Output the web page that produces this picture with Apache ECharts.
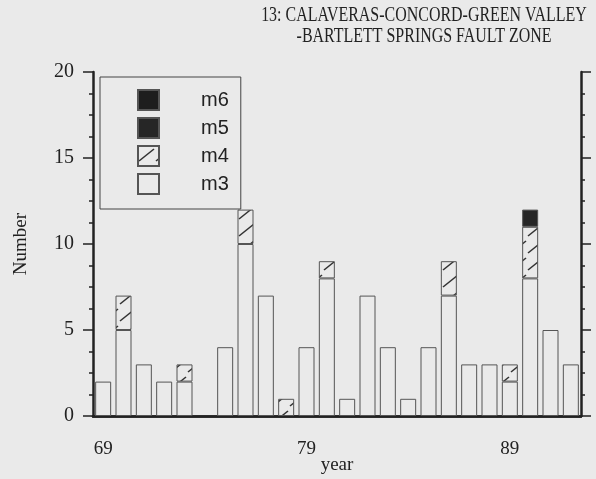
<!DOCTYPE html>
<html><head><meta charset="utf-8">
<script src="https://cdn.jsdelivr.net/npm/echarts@6/dist/echarts.min.js"></script>
<style>html,body{margin:0;padding:0;background:#eaeaea}#c{width:596px;height:479px}</style>
</head><body><div id="c"></div>
<script>
const years = ['69','70','71','72','73','74','75','76','77','78','79','80','81','82','83','84','85','86','87','88','89','90','91','92'];
const m3 = [2,5,3,2,2,0,4,10,7,0,4,8,1,7,4,1,4,7,3,3,2,8,5,3];
const m4 = [0,2,0,0,1,0,0,2,0,1,0,1,0,0,0,0,0,2,0,0,1,3,0,0];
const m5 = [0,0,0,0,0,0,0,0,0,0,0,0,0,0,0,0,0,0,0,0,0,1,0,0];
const m6 = [0,0,0,0,0,0,0,0,0,0,0,0,0,0,0,0,0,0,0,0,0,0,0,0];
const yTicks = [0,5,10,15,20];
const titleLines = ['13: CALAVERAS-CONCORD-GREEN VALLEY','-BARTLETT SPRINGS FAULT ZONE'];

const BG = '#eaeaea';
const hatch = document.createElement('canvas');
hatch.width = 17; hatch.height = 17;
const hc = hatch.getContext('2d');
hc.fillStyle = BG; hc.fillRect(0,0,17,17);
hc.strokeStyle = '#333'; hc.lineWidth = 1.6;
hc.beginPath(); hc.moveTo(1,15); hc.lineTo(16,3); hc.stroke();

const nz = a => a.map(v => v === 0 ? '-' : v);
const serif = '"Liberation Serif","Times New Roman",serif';
const chart = echarts.init(document.getElementById('c'));
const border = {borderColor:'#555', borderWidth:1};
chart.setOption({
  backgroundColor: BG,
  animation: false,
  graphic: titleLines.map((t, i) => ({
    type: 'text', x: 424, y: 5 + i * 21, scaleX: 0.76,
    style: {text: t, fontFamily: serif, fontSize: 21, fill: '#222', align: 'center', verticalAlign: 'top'}
  })),
  legend: {
    data: ['m6','m5','m4','m3'], orient: 'vertical', left: 100, top: 77,
    itemWidth: 21, itemHeight: 20, itemGap: 6, icon: 'rect',
    padding: [12, 12, 14, 37], borderColor: '#444', borderWidth: 1,
    textStyle: {fontFamily: '"Liberation Sans",Arial,sans-serif', fontSize: 20, color: '#222', padding: [0,0,0,37]}
  },
  grid: {left: 93, right: 15, top: 72, bottom: 63, containLabel: false, outerBoundsMode: 'none'},
  xAxis: [{
    type: 'category', data: years, position: 'bottom',
    name: 'year', nameLocation: 'middle', nameGap: 40, nameMoveOverlap: false,
    nameTextStyle: {fontFamily: serif, fontSize: 19, color: '#222'},
    axisLine: {lineStyle: {color: '#222', width: 2.5}},
    axisTick: {interval: 0, length: 9, lineStyle: {color: '#222', width: 1.5}},
    axisLabel: {interval: (i) => i % 10 === 0, margin: 24, fontFamily: serif, fontSize: 19, color: '#222'}
  }, {
    type: 'category', data: years, position: 'top',
    axisLine: {lineStyle: {color: '#222', width: 2.5}},
    axisTick: {interval: 0, length: 9, lineStyle: {color: '#222', width: 1.5}},
    axisLabel: {show: false}
  }],
  yAxis: [{
    type: 'value', min: 0, max: 20, interval: 5, position: 'left',
    name: 'Number', nameLocation: 'middle', nameGap: 62, nameRotate: 90, nameMoveOverlap: false,
    nameTextStyle: {fontFamily: serif, fontSize: 19, color: '#222'},
    axisLine: {show: true, lineStyle: {color: '#222', width: 2.5}},
    axisTick: {show: true, length: 10, lineStyle: {color: '#222', width: 1.5}},
    minorTick: {show: true, splitNumber: 4, length: 4, lineStyle: {color: '#222', width: 1.5}},
    splitLine: {show: false},
    axisLabel: {margin: 19, fontFamily: serif, fontSize: 20, color: '#222',
      formatter: v => yTicks.includes(v) ? String(v) : ''}
  }, {
    type: 'value', min: 0, max: 20, interval: 5, position: 'right',
    axisLine: {show: true, lineStyle: {color: '#222', width: 2.5}},
    axisTick: {show: true, length: 10, lineStyle: {color: '#222', width: 1.5}},
    minorTick: {show: true, splitNumber: 4, length: 4, lineStyle: {color: '#222', width: 1.5}},
    splitLine: {show: false}, axisLabel: {show: false}
  }],
  series: [
    {name: 'm3', type: 'bar', stack: 's', barWidth: 16, data: nz(m3), itemStyle: Object.assign({color: BG}, border)},
    {name: 'm4', type: 'bar', stack: 's', barWidth: 16, data: nz(m4), itemStyle: Object.assign({color: {image: hatch, repeat: 'repeat'}}, border)},
    {name: 'm5', type: 'bar', stack: 's', barWidth: 16, data: nz(m5), itemStyle: Object.assign({color: '#262626'}, border)},
    {name: 'm6', type: 'bar', stack: 's', barWidth: 16, data: nz(m6), itemStyle: Object.assign({color: '#1e1e1e'}, border)}
  ]
});
</script></body></html>
